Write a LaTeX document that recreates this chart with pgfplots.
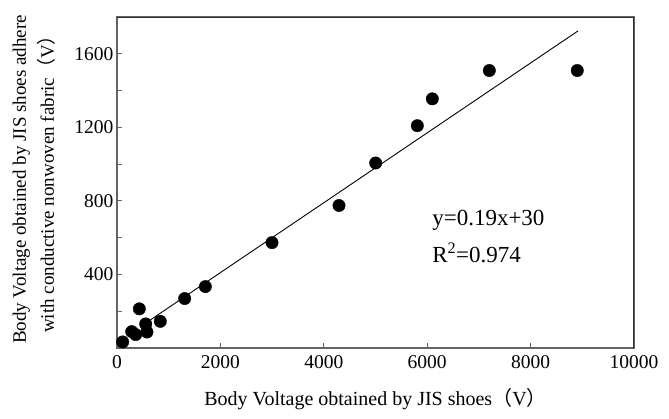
\documentclass[border=0pt]{standalone}
\usepackage{fontspec}
\setmainfont{Liberation Serif}
\newfontfamily\cjk{Noto Sans CJK SC}
\usepackage{pgfplots}
\pgfplotsset{compat=1.18}

\definecolor{axisgray}{RGB}{100,100,100}
\definecolor{framedark}{RGB}{45,45,45}

\begin{document}
\begin{tikzpicture}
\useasboundingbox (-117pt,-70pt) rectangle (552pt,348pt);
\begin{axis}[
    scale only axis,
    width=517pt, height=331pt,
    xmin=0, xmax=10000,
    ymin=0, ymax=1800,
    xtick={0,2000,4000,6000,8000,10000},
    ytick={400,800,1200,1600},
    minor ytick={200,600,1000,1400},
    xtick pos=bottom, ytick pos=left,
    tick align=inside,
    major tick length=5pt,
    minor tick length=5pt,
    tick style={axisgray, line width=0.8pt},
    axis line style={axisgray, line width=1.3pt},
    scaled ticks=false,
    /pgf/number format/assume math mode=true,
    /pgf/number format/set thousands separator={},
    ticklabel style={font=\fontsize{19.5}{23}\selectfont},
    xticklabel style={yshift=-4pt},
    xlabel style={font=\fontsize{20}{28}\selectfont, yshift=-13pt},
    xlabel={Body Voltage obtained by JIS shoes{\cjk （}V{\cjk ）}},
    ylabel={Body Voltage obtained by JIS shoes adhere\\with conductive nonwoven fabric{\cjk （}V{\cjk ）}},
    ylabel style={font=\fontsize{19}{28}\selectfont, align=center, yshift=12pt, xshift=3pt},
]
% top and right edges are darker than left and bottom
\draw[framedark, line width=1.3pt] (rel axis cs:0,1) -- (rel axis cs:1,1) -- (rel axis cs:1,0);
% fitted line y = 0.19x + 30
\addplot[black, line width=0.9pt] coordinates {
    (450,115.5) (8920,1724.8)
};
\addplot[only marks, mark=*, mark size=6.2pt, black] coordinates {
    (110,33) (284,89) (361,73) (432,213) (555,131) (580,87)
    (838,145) (1309,269) (1709,334) (2998,573) (4294,775)
    (5003,1006) (5809,1209) (6099,1355) (7202,1509) (8903,1509)
};
\node[anchor=base west, font=\fontsize{23}{26}\selectfont] at (axis cs:6030,668) {y=0.19x+30};
\node[anchor=base west, font=\fontsize{23}{26}\selectfont] at (axis cs:6030,467) {R\textsuperscript{2}=0.974};
\end{axis}
\end{tikzpicture}
\end{document}
